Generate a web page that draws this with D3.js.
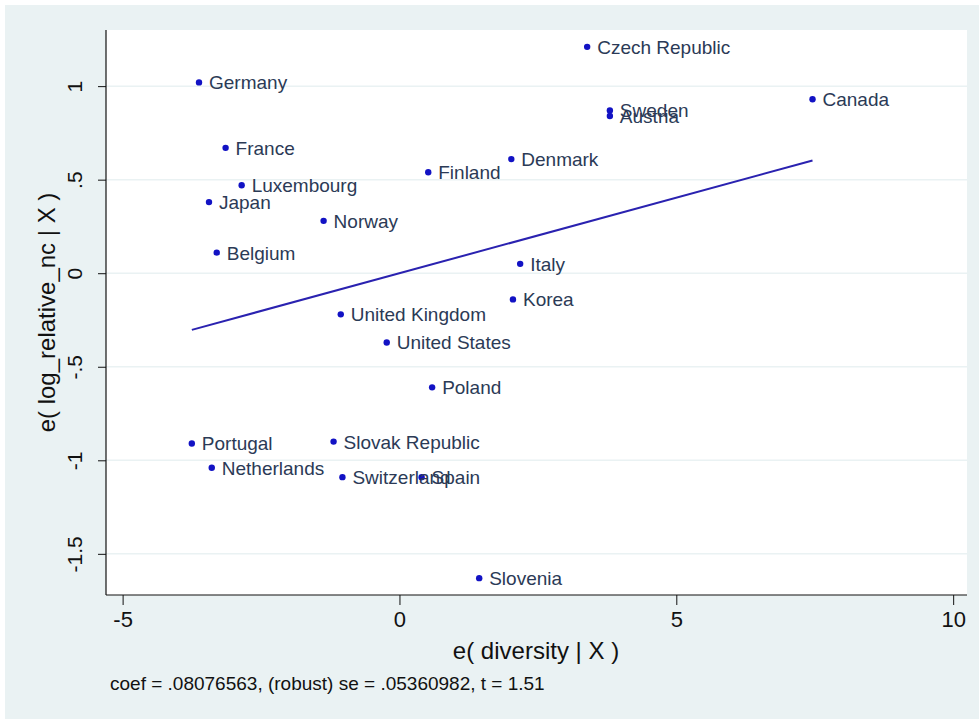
<!DOCTYPE html>
<html>
<head>
<meta charset="utf-8">
<script src="https://cdn.jsdelivr.net/npm/d3@7"></script>
<style>
  html, body { margin: 0; padding: 0; background: #ffffff; }
  svg { display: block; }
  text { font-family: "Liberation Sans", Arial, Helvetica, sans-serif; }
</style>
</head>
<body>
<svg id="chart" width="979" height="719"></svg>
<script>
// Added-variable plot: residual of log_relative_nc vs residual of diversity
const countries = [
  "Czech Republic", "Germany", "Sweden", "Austria", "Canada", "France",
  "Denmark", "Finland", "Luxembourg", "Japan", "Norway", "Belgium",
  "Italy", "Korea", "United Kingdom", "United States", "Poland",
  "Portugal", "Slovak Republic", "Netherlands", "Switzerland", "Spain", "Slovenia"
];
const diversityResid = [
  3.39, -3.62, 3.80, 3.80, 7.46, -3.14,
  2.02, 0.52, -2.85, -3.44, -1.37, -3.30,
  2.18, 2.05, -1.06, -0.23, 0.59,
  -3.75, -1.19, -3.39, -1.03, 0.40, 1.44
];
const relativeNcResid = [
  1.21, 1.02, 0.87, 0.84, 0.93, 0.67,
  0.61, 0.54, 0.47, 0.38, 0.28, 0.11,
  0.05, -0.14, -0.22, -0.37, -0.61,
  -0.91, -0.90, -1.04, -1.09, -1.09, -1.63
];
const xTicks = [-5, 0, 5, 10];
const xTickLabels = ["-5", "0", "5", "10"];
const yTicks = [1, 0.5, 0, -0.5, -1, -1.5];
const yTickLabels = ["1", ".5", "0", "-.5", "-1", "-1.5"];
const coef = 0.08076563;
const robustSe = 0.05360982;
const tStat = 1.51;

const svg = d3.select("#chart");
const W = 979, H = 719;
const plot = { left: 106, top: 30, right: 967, bottom: 595 };

// graph region background
svg.append("rect").attr("x", 5).attr("y", 5).attr("width", W - 5).attr("height", H - 5)
  .attr("fill", "#eaf2f3");
svg.append("rect").attr("x", plot.left).attr("y", plot.top)
  .attr("width", plot.right - plot.left).attr("height", plot.bottom - plot.top)
  .attr("fill", "#ffffff");

const x = d3.scaleLinear().domain([-5.3, 10.25]).range([plot.left, plot.right]);
const y = d3.scaleLinear().domain([-1.72, 1.3]).range([plot.bottom, plot.top]);

// horizontal grid lines
svg.append("g").selectAll("line").data(yTicks).join("line")
  .attr("x1", plot.left).attr("x2", plot.right)
  .attr("y1", d => y(d)).attr("y2", d => y(d))
  .attr("stroke", "#eaf2f3").attr("stroke-width", 1.5);

// axes
const yAxis = d3.axisLeft(y).tickValues(yTicks).tickSize(8).tickPadding(6)
  .tickFormat((d, i) => yTickLabels[i]);
const gy = svg.append("g").attr("transform", `translate(${plot.left},0)`).call(yAxis);
gy.select(".domain").attr("d", `M0,${plot.top}V${plot.bottom}`).attr("stroke", "#111").attr("stroke-width", 1.2);
gy.selectAll(".tick line").attr("stroke", "#111");
gy.selectAll(".tick text")
  .attr("font-size", 21).attr("fill", "#111")
  .attr("text-anchor", "middle").attr("dy", 0)
  .attr("x", 0).attr("y", 0)
  .attr("transform", "translate(-24,0) rotate(-90)");

const xAxis = d3.axisBottom(x).tickValues(xTicks).tickSize(10).tickPadding(6)
  .tickFormat((d, i) => xTickLabels[i]);
const gx = svg.append("g").attr("transform", `translate(0,${plot.bottom})`).call(xAxis);
gx.select(".domain").attr("d", `M${plot.left},0H${plot.right}`).attr("stroke", "#111").attr("stroke-width", 1.2);
gx.selectAll(".tick line").attr("stroke", "#111");
gx.selectAll(".tick text").attr("font-size", 22).attr("fill", "#111");

// axis titles
svg.append("text")
  .attr("transform", `translate(55,${(plot.top + plot.bottom) / 2}) rotate(-90)`)
  .attr("text-anchor", "middle").attr("font-size", 24).attr("fill", "#111")
  .text("e( log_relative_nc | X )");
svg.append("text")
  .attr("x", 536).attr("y", 659)
  .attr("text-anchor", "middle").attr("font-size", 24).attr("fill", "#111")
  .text("e( diversity | X )");

// footnote with regression statistics
svg.append("text")
  .attr("x", 110).attr("y", 690)
  .attr("font-size", 19).attr("fill", "#111")
  .text(`coef = ${String(coef).replace(/^0/, "")}, (robust) se = ${String(robustSe).replace(/^0/, "")}, t = ${tStat}`);

// fitted line over the range of the data
const xMin = d3.min(diversityResid), xMax = d3.max(diversityResid);
svg.append("line")
  .attr("x1", x(xMin)).attr("y1", y(coef * xMin))
  .attr("x2", x(xMax)).attr("y2", y(coef * xMax))
  .attr("stroke", "#2a22b0").attr("stroke-width", 2);

// points and country labels
const pts = countries.map((c, i) => ({ c, dx: diversityResid[i], dy: relativeNcResid[i] }));
svg.append("g").selectAll("circle").data(pts).join("circle")
  .attr("cx", d => x(d.dx)).attr("cy", d => y(d.dy)).attr("r", 3.2)
  .attr("fill", "#1212c4");
svg.append("g").selectAll("text").data(pts).join("text")
  .attr("x", d => x(d.dx) + 10).attr("y", d => y(d.dy) + 7)
  .attr("font-size", 19).attr("fill", "#2b3a56")
  .text(d => d.c);
</script>
</body>
</html>
